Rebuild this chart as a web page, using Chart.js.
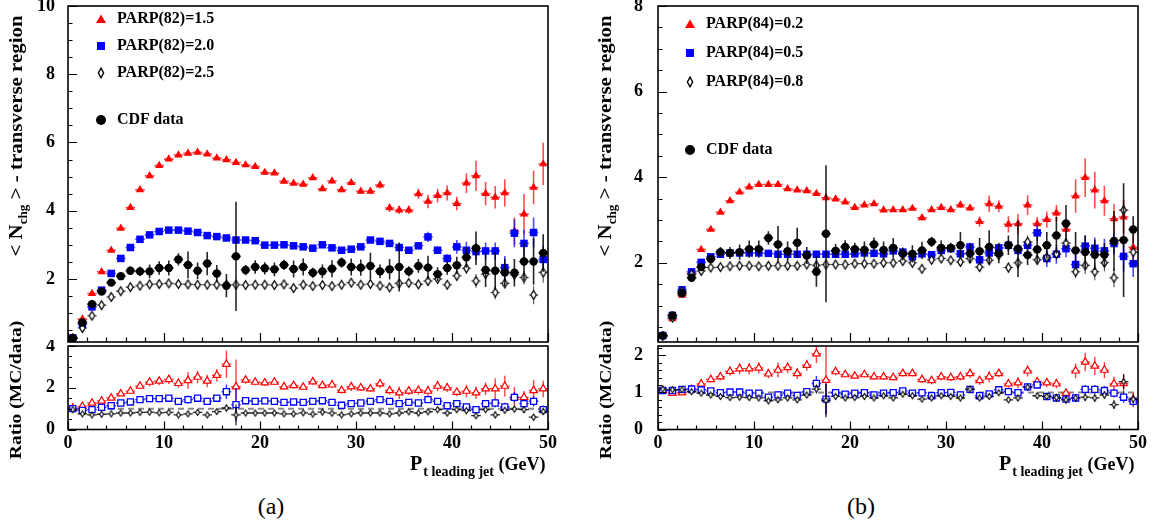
<!DOCTYPE html>
<html><head><meta charset="utf-8"><title>PARP(82) / PARP(84) transverse region</title>
<script src="https://cdn.jsdelivr.net/npm/chart.js@4.4.1/dist/chart.umd.min.js"></script>
<style>
html,body{margin:0;padding:0;background:#fff}
body{position:relative;width:1154px;height:529px;overflow:hidden;font-family:"Liberation Serif","Times New Roman",serif;color:#000}
canvas{position:absolute}
.rot{position:absolute;width:320px;height:22px;line-height:22px;text-align:center;white-space:nowrap;font-weight:bold}
.leg{position:absolute;font-weight:bold;font-size:16px;line-height:18px;white-space:nowrap}
.xt{position:absolute;font-weight:bold;font-size:18px;line-height:20px;white-space:nowrap}
svg{position:absolute;overflow:visible}
.cap{position:absolute;font-size:24px;line-height:28px;width:60px;text-align:center}
</style></head><body>
<canvas id="aMain" width="560" height="348" style="left:0;top:0"></canvas>
<canvas id="aRatio" width="560" height="125" style="left:0;top:340px"></canvas>
<canvas id="bMain" width="564" height="348" style="left:590px;top:0"></canvas>
<canvas id="bRatio" width="564" height="125" style="left:590px;top:340px"></canvas>

<div class="rot" style="left:-144px;top:125px;font-size:19px;transform:rotate(-90deg) scaleX(1.1)">&lt; N<sub style="font-size:12px">chg</sub> &gt; - transverse region</div>
<div class="rot" style="left:-144px;top:379px;font-size:17px;transform:rotate(-90deg) scaleX(1.15)">Ratio (MC/data)</div>
<div class="rot" style="left:445px;top:125px;font-size:19px;transform:rotate(-90deg) scaleX(1.1)">&lt; N<sub style="font-size:12px">chg</sub> &gt; - transverse region</div>
<div class="rot" style="left:446px;top:379px;font-size:17px;transform:rotate(-90deg) scaleX(1.15)">Ratio (MC/data)</div>

<div class="xt" style="left:410px;top:453px"><span style="font-size:20px">P</span><span style="font-size:14px;position:relative;top:6px;margin-left:1px">t leading jet</span> (GeV)</div>
<div class="xt" style="left:999px;top:453px"><span style="font-size:20px">P</span><span style="font-size:14px;position:relative;top:6px;margin-left:1px">t leading jet</span> (GeV)</div>

<div class="cap" style="left:241px;top:492px">(a)</div>
<div class="cap" style="left:831px;top:492px">(b)</div>
<div id="legends"></div>

<script>
// ---------------- data ----------------
const ptBins = [0.5,1.5,2.5,3.5,4.5,5.5,6.5,7.5,8.5,9.5,10.5,11.5,12.5,13.5,14.5,15.5,16.5,17.5,18.5,19.5,
  20.5,21.5,22.5,23.5,24.5,25.5,26.5,27.5,28.5,29.5,30.5,31.5,32.5,33.5,34.5,35.5,36.5,37.5,38.5,39.5,
  40.5,41.5,42.5,43.5,44.5,45.5,46.5,47.5,48.5,49.5];
const binHalfWidth = 0.5;
const xTickVals = [0,10,20,30,40,50];
const aMainTicks = [2,4,6,8,10];
const aRatioTicks = [0,2,4];
const bMainTicks = [2,4,6,8];
const bRatioTicks = [0,1,2];
const legendA = ['PARP(82)=1.5','PARP(82)=2.0','PARP(82)=2.5','CDF data'];
const legendB = ['PARP(84)=0.2','PARP(84)=0.5','PARP(84)=0.8','CDF data'];

// panel (a): PARP(82)
const aRed = [0.28,0.82,1.57,2.21,2.84,3.48,4.09,4.61,5.02,5.32,5.51,5.63,5.68,5.71,5.66,5.54,5.49,5.41,5.34,5.29,
  5.12,5.10,4.86,4.80,4.77,4.96,4.64,4.87,4.61,4.82,4.57,4.57,4.75,4.08,4.02,4.02,4.49,4.27,4.44,4.52,
  4.21,4.81,5.02,4.50,4.39,4.52,3.40,3.90,4.68,5.37];
const aRedErr = [0.03,0.03,0.03,0.03,0.03,0.03,0.03,0.03,0.03,0.03,0.03,0.03,0.03,0.03,0.03,0.04,0.04,0.04,0.04,0.04,
  0.05,0.05,0.05,0.05,0.06,0.06,0.06,0.07,0.07,0.08,0.08,0.09,0.10,0.12,0.12,0.12,0.15,0.20,0.20,0.22,
  0.20,0.29,0.44,0.34,0.33,0.40,0.40,0.59,0.49,0.62];
const aBlue = [0.27,0.67,1.18,1.67,2.16,2.60,2.92,3.16,3.29,3.39,3.43,3.43,3.40,3.36,3.27,3.24,3.20,3.14,3.14,3.12,
  2.99,2.99,3.00,2.97,2.94,2.90,3.00,2.91,2.84,2.87,2.94,3.14,3.10,3.04,2.92,2.84,2.97,3.23,2.84,2.60,
  2.94,2.84,2.80,2.82,2.82,2.33,3.34,3.04,3.36,2.57];
const aBlueErr = [0.03,0.03,0.03,0.03,0.03,0.03,0.03,0.03,0.03,0.03,0.03,0.03,0.03,0.03,0.03,0.03,0.03,0.03,0.03,0.03,
  0.04,0.04,0.04,0.04,0.05,0.05,0.05,0.05,0.06,0.06,0.06,0.07,0.07,0.08,0.08,0.09,0.10,0.15,0.12,0.12,
  0.20,0.25,0.25,0.25,0.25,0.34,0.41,0.40,0.44,0.40];
const aWhite = [0.25,0.56,0.92,1.23,1.47,1.64,1.76,1.80,1.84,1.85,1.87,1.85,1.84,1.83,1.83,1.83,1.83,1.83,1.82,1.83,
  1.83,1.82,1.84,1.73,1.83,1.79,1.82,1.79,1.83,1.89,1.83,1.85,1.80,1.75,1.87,1.88,1.84,1.94,2.00,1.83,
  2.09,2.31,1.94,2.14,1.60,1.87,2.12,2.04,1.53,2.19];
const aWhiteErr = [0.03,0.03,0.03,0.03,0.03,0.03,0.03,0.03,0.03,0.03,0.03,0.03,0.03,0.03,0.03,0.03,0.03,0.03,0.03,0.03,
  0.04,0.04,0.04,0.04,0.04,0.04,0.04,0.04,0.04,0.04,0.04,0.04,0.05,0.05,0.06,0.06,0.06,0.15,0.15,0.12,
  0.15,0.15,0.20,0.15,0.20,0.15,0.20,0.20,0.27,0.30];
const aData = [0.26,0.72,1.26,1.63,1.89,2.08,2.24,2.22,2.22,2.32,2.32,2.57,2.41,2.24,2.45,2.16,1.80,2.66,2.26,2.35,
  2.31,2.28,2.41,2.29,2.35,2.18,2.22,2.30,2.48,2.35,2.33,2.38,2.22,2.28,2.35,2.22,2.38,2.33,2.14,2.32,
  2.40,2.63,2.90,2.26,2.24,2.19,2.18,2.51,2.51,2.76];
const aDataErr = [0.03,0.04,0.05,0.06,0.08,0.10,0.12,0.14,0.20,0.20,0.22,0.18,0.39,0.24,0.34,0.25,0.34,1.60,0.15,0.20,
  0.18,0.20,0.15,0.25,0.25,0.15,0.20,0.25,0.15,0.25,0.24,0.39,0.20,0.30,0.72,0.15,0.20,0.35,0.20,0.20,
  0.25,0.30,0.49,0.50,0.55,0.40,0.40,0.55,0.68,0.55];
const aRedRatio = [1.03,1.11,1.27,1.37,1.51,1.71,1.84,2.08,2.27,2.32,2.40,2.21,2.35,2.51,2.32,2.60,3.13,2.05,2.37,2.27,
  2.24,2.27,2.05,2.11,2.03,2.29,2.11,2.14,1.88,2.05,2.00,1.95,2.19,1.87,1.76,1.85,1.88,1.84,2.08,2.00,
  1.79,1.84,1.76,1.95,1.95,2.08,1.54,1.54,1.87,1.95];
const aRedRatioErr = [0.05,0.06,0.07,0.08,0.10,0.10,0.12,0.15,0.20,0.20,0.22,0.20,0.40,0.30,0.30,0.30,0.65,1.30,0.18,0.15,
  0.15,0.15,0.15,0.15,0.15,0.15,0.15,0.15,0.15,0.20,0.15,0.15,0.20,0.20,0.30,0.20,0.20,0.25,0.25,0.20,
  0.20,0.30,0.30,0.30,0.50,0.50,0.50,0.30,0.50,0.40];
const aBlueRatio = [1.00,0.91,0.95,1.06,1.14,1.27,1.32,1.43,1.48,1.48,1.50,1.35,1.43,1.50,1.35,1.50,1.81,1.19,1.38,1.35,
  1.37,1.35,1.30,1.32,1.30,1.35,1.38,1.30,1.16,1.24,1.27,1.35,1.43,1.35,1.24,1.30,1.27,1.43,1.35,1.14,
  1.24,1.08,0.95,1.24,1.27,1.08,1.54,1.24,1.35,0.95];
const aBlueRatioErr = [0.04,0.05,0.05,0.06,0.06,0.07,0.07,0.08,0.10,0.10,0.10,0.10,0.20,0.12,0.15,0.12,0.35,0.80,0.10,0.08,
  0.08,0.08,0.08,0.08,0.08,0.08,0.08,0.08,0.08,0.10,0.10,0.10,0.10,0.10,0.12,0.10,0.10,0.15,0.12,0.12,
  0.12,0.15,0.15,0.15,0.20,0.20,0.25,0.20,0.25,0.20];
const aWhiteRatio = [0.95,0.75,0.70,0.73,0.75,0.79,0.79,0.82,0.83,0.80,0.82,0.70,0.75,0.82,0.70,0.86,1.03,0.70,0.79,0.79,
  0.79,0.79,0.75,0.75,0.80,0.74,0.83,0.78,0.70,0.75,0.79,0.79,0.79,0.75,0.79,0.85,0.79,0.85,0.95,0.79,
  0.95,0.90,0.66,0.95,0.70,0.92,0.98,0.95,0.59,0.86];
const aWhiteRatioErr = [0.03,0.03,0.03,0.03,0.03,0.04,0.04,0.05,0.05,0.05,0.05,0.05,0.10,0.06,0.08,0.06,0.15,0.50,0.05,0.05,
  0.05,0.05,0.05,0.05,0.05,0.05,0.05,0.05,0.05,0.05,0.06,0.06,0.06,0.06,0.08,0.06,0.06,0.08,0.08,0.08,
  0.08,0.10,0.10,0.10,0.15,0.12,0.12,0.15,0.15,0.15];

// panel (b): PARP(84)
const bRed = [0.30,0.69,1.24,1.76,2.31,2.78,3.18,3.45,3.65,3.77,3.83,3.83,3.83,3.73,3.70,3.68,3.62,3.52,3.49,3.42,
  3.29,3.35,3.38,3.23,3.24,3.24,3.27,3.05,3.24,3.29,3.24,3.35,3.28,2.96,3.38,3.32,2.90,2.91,3.35,2.91,
  3.01,3.16,2.78,3.56,3.99,3.70,3.45,3.03,3.07,2.36];
const bRedErr = [0.03,0.03,0.03,0.03,0.03,0.03,0.03,0.03,0.03,0.03,0.03,0.03,0.03,0.03,0.03,0.03,0.03,0.03,0.03,0.03,
  0.03,0.03,0.03,0.04,0.04,0.04,0.05,0.06,0.06,0.06,0.06,0.07,0.07,0.12,0.19,0.14,0.19,0.23,0.23,0.16,
  0.19,0.19,0.16,0.39,0.45,0.43,0.35,0.35,0.39,0.30];
const bBlue = [0.30,0.77,1.37,1.79,2.01,2.14,2.20,2.23,2.23,2.23,2.23,2.22,2.20,2.20,2.20,2.20,2.20,2.20,2.20,2.20,
  2.21,2.23,2.22,2.21,2.28,2.25,2.14,2.21,2.19,2.29,2.33,2.21,2.37,2.07,2.23,2.35,2.41,2.29,2.41,2.70,
  2.10,2.20,2.33,1.96,2.39,2.34,2.28,2.45,2.15,1.98];
const bBlueErr = [0.03,0.03,0.03,0.03,0.03,0.03,0.03,0.03,0.03,0.03,0.03,0.03,0.03,0.03,0.03,0.03,0.03,0.03,0.03,0.03,
  0.03,0.03,0.03,0.04,0.04,0.04,0.05,0.05,0.06,0.06,0.08,0.08,0.10,0.10,0.10,0.12,0.12,0.12,0.15,0.19,
  0.20,0.22,0.20,0.25,0.25,0.25,0.28,0.25,0.35,0.31];
const bWhite = [0.29,0.72,1.33,1.73,1.81,1.89,1.90,1.92,1.93,1.93,1.92,1.93,1.93,1.93,1.93,1.96,1.94,1.96,1.96,1.96,
  1.98,1.98,1.98,2.00,2.00,2.04,2.00,1.86,2.07,2.10,2.06,2.02,2.10,1.90,2.06,2.18,1.89,2.00,2.49,2.07,
  2.13,2.21,2.46,1.79,1.94,1.79,2.00,1.65,3.23,2.25];
const bWhiteErr = [0.03,0.03,0.03,0.03,0.03,0.03,0.03,0.03,0.03,0.03,0.03,0.03,0.03,0.03,0.03,0.03,0.03,0.03,0.03,0.03,
  0.03,0.03,0.03,0.04,0.04,0.04,0.05,0.08,0.08,0.08,0.08,0.08,0.08,0.10,0.10,0.10,0.12,0.15,0.15,0.12,
  0.15,0.15,0.15,0.15,0.20,0.20,0.20,0.22,0.20,0.25];
const bData = [0.30,0.77,1.29,1.65,1.90,2.09,2.25,2.23,2.25,2.32,2.32,2.58,2.43,2.27,2.47,2.17,1.79,2.68,2.28,2.37,
  2.32,2.30,2.43,2.30,2.35,2.21,2.21,2.29,2.49,2.35,2.35,2.41,2.22,2.27,2.37,2.22,2.41,2.33,2.18,2.31,
  2.41,2.64,2.92,2.29,2.25,2.19,2.19,2.51,2.53,2.78];
const bDataErr = [0.03,0.04,0.05,0.06,0.08,0.10,0.12,0.14,0.18,0.20,0.20,0.16,0.43,0.23,0.35,0.20,0.35,1.60,0.16,0.16,
  0.15,0.20,0.16,0.20,0.23,0.15,0.20,0.20,0.12,0.17,0.12,0.31,0.23,0.31,0.39,0.23,0.23,0.66,0.23,0.31,
  0.31,0.43,0.43,0.43,0.39,0.35,0.27,0.70,1.33,0.31];
const bRedRatio = [1.05,0.98,0.99,1.08,1.23,1.35,1.42,1.57,1.64,1.64,1.66,1.50,1.60,1.67,1.51,1.73,2.04,1.33,1.56,1.48,
  1.44,1.48,1.42,1.42,1.40,1.51,1.51,1.35,1.32,1.42,1.40,1.42,1.51,1.32,1.42,1.51,1.23,1.26,1.58,1.29,
  1.26,1.23,0.98,1.58,1.82,1.71,1.60,1.23,1.24,0.80];
const bRedRatioErr = [0.03,0.03,0.04,0.05,0.06,0.08,0.10,0.12,0.15,0.15,0.15,0.12,0.20,0.15,0.15,0.15,0.25,0.90,0.10,0.08,
  0.08,0.08,0.08,0.08,0.08,0.08,0.08,0.10,0.10,0.10,0.10,0.10,0.12,0.12,0.15,0.10,0.12,0.15,0.15,0.10,
  0.12,0.12,0.10,0.20,0.25,0.25,0.22,0.20,0.25,0.20];
const bBlueRatio = [1.05,1.05,1.08,1.09,1.07,1.04,0.99,1.01,1.01,0.98,0.98,0.87,0.93,0.98,0.92,1.02,1.24,0.82,0.99,0.95,
  0.98,0.99,0.93,0.98,0.99,1.04,0.98,0.99,0.91,0.99,1.00,0.93,1.08,0.91,0.96,1.07,1.02,0.99,1.15,1.20,
  0.89,0.85,0.82,0.85,1.08,1.08,1.05,0.98,0.87,0.76];
const bBlueRatioErr = [0.03,0.03,0.03,0.03,0.04,0.04,0.05,0.05,0.06,0.06,0.06,0.06,0.10,0.07,0.08,0.07,0.20,0.42,0.06,0.05,
  0.05,0.05,0.05,0.05,0.05,0.05,0.05,0.05,0.05,0.05,0.06,0.06,0.06,0.06,0.07,0.06,0.06,0.08,0.08,0.08,
  0.08,0.10,0.10,0.10,0.12,0.12,0.12,0.12,0.15,0.12];
const bWhiteRatio = [1.09,1.07,1.07,1.02,0.98,0.93,0.89,0.86,0.87,0.86,0.85,0.77,0.80,0.85,0.80,0.93,1.09,0.78,0.89,0.85,
  0.86,0.89,0.85,0.91,0.85,0.95,0.91,0.82,0.85,0.91,0.89,0.85,1.09,0.85,0.89,0.99,0.80,0.85,1.14,0.91,
  0.89,0.86,0.80,0.85,0.87,0.85,0.93,0.67,1.29,0.82];
const bWhiteRatioErr = [0.03,0.03,0.03,0.03,0.03,0.04,0.04,0.04,0.05,0.05,0.05,0.05,0.08,0.06,0.07,0.06,0.12,0.45,0.05,0.05,
  0.05,0.05,0.05,0.05,0.05,0.05,0.05,0.05,0.05,0.05,0.05,0.05,0.06,0.06,0.06,0.06,0.06,0.08,0.08,0.08,
  0.08,0.10,0.10,0.10,0.10,0.10,0.10,0.12,0.20,0.12];
const unityRatio = 1;

// ---------------- helpers ----------------
const RED = '#ff0000', BLUE = '#0000ff', BLACK = '#000000';
function pts(vals, errs){ return ptBins.map((x,i)=>({x:x, y:vals[i], e:errs[i]})); }

function diamondImg(w, h, lw){
  const c = document.createElement('canvas');
  c.width = Math.ceil(w + 2*lw + 2); c.height = Math.ceil(h + 2*lw + 2);
  const g = c.getContext('2d'); const cx = c.width/2, cy = c.height/2;
  g.beginPath(); g.moveTo(cx, cy-h/2); g.lineTo(cx+w/2, cy); g.lineTo(cx, cy+h/2); g.lineTo(cx-w/2, cy); g.closePath();
  g.fillStyle = '#fff'; g.fill(); g.lineWidth = lw; g.strokeStyle = '#000'; g.stroke();
  return c;
}
const bigDiamond = diamondImg(5.5, 8.5, 1.3);
const smallDiamond = diamondImg(4, 6, 1.1);

const errBarPlugin = {
  id: 'errBars',
  beforeDatasetDraw(chart, args){
    const ds = chart.data.datasets[args.index];
    if (!ds.errColor) return;
    const ctx = chart.ctx, xs = chart.scales.x, ys = chart.scales.y, a = chart.chartArea;
    ctx.save();
    ctx.beginPath(); ctx.rect(a.left, a.top, a.right-a.left, a.bottom-a.top); ctx.clip();
    ctx.strokeStyle = ds.errColor; ctx.lineWidth = ds.errWidth || 1;
    ctx.beginPath();
    ds.data.forEach(p => {
      const px = xs.getPixelForValue(p.x), py = ys.getPixelForValue(p.y);
      ctx.moveTo(xs.getPixelForValue(p.x - binHalfWidth), py);
      ctx.lineTo(xs.getPixelForValue(p.x + binHalfWidth), py);
      if (p.e) { ctx.moveTo(px, ys.getPixelForValue(p.y - p.e)); ctx.lineTo(px, ys.getPixelForValue(p.y + p.e)); }
    });
    ctx.stroke();
    ctx.restore();
  }
};

const framePlugin = {
  id: 'rootFrame',
  afterDraw(chart, args, o){
    const ctx = chart.ctx, a = chart.chartArea, xs = chart.scales.x, ys = chart.scales.y;
    ctx.save();
    ctx.strokeStyle = '#000'; ctx.lineWidth = 1.2;
    ctx.beginPath();
    for (let k = 0; ; k++) {
      const v = xs.min + k*o.xMinor; if (v > xs.max + 1e-9) break;
      const major = Math.abs(v/o.xMajor - Math.round(v/o.xMajor)) < 1e-6;
      const px = Math.round(xs.getPixelForValue(v)) + 0.5;
      ctx.moveTo(px, a.bottom); ctx.lineTo(px, a.bottom - (major ? o.majorLen : o.minorLen));
    }
    const y0 = Math.ceil((ys.min - 1e-9)/o.yMinor);
    for (let k = y0; ; k++) {
      const v = k*o.yMinor; if (v > ys.max + 1e-9) break;
      const major = Math.abs(v/o.yMajor - Math.round(v/o.yMajor)) < 1e-6;
      const py = Math.round(ys.getPixelForValue(v)) + 0.5;
      ctx.moveTo(a.left, py); ctx.lineTo(a.left + (major ? o.majorLen : o.minorLen), py);
    }
    ctx.stroke();
    ctx.lineWidth = 1.6;
    ctx.strokeRect(a.left, a.top, a.right - a.left, a.bottom - a.top);
    ctx.restore();
  }
};

const tickFont = {family:'"Liberation Serif","Times New Roman",serif', size:18, weight:'bold'};

function buildChart(id, datasets, o){
  return new Chart(document.getElementById(id), {
    type: 'scatter',
    data: {datasets: datasets},
    options: {
      responsive: false, maintainAspectRatio: false, animation: false, events: [],
      layout: {padding: {left: 0, right: o.padR, top: o.padT, bottom: o.padB}},
      plugins: {legend: {display: false}, tooltip: {enabled: false}, rootFrame: o.frame},
      scales: {
        x: {type: 'linear', min: 0, max: 50,
            grid: {display: false, drawTicks: false}, border: {display: false},
            ticks: {display: o.showX, font: tickFont, color: '#000', padding: o.xPad, maxRotation: 0, autoSkip: false},
            afterBuildTicks: s => { s.ticks = xTickVals.map(v => ({value: v})); },
            afterFit: s => { s.height = o.xH; s.paddingLeft = 0; s.paddingRight = 0; }},
        y: {type: 'linear', min: o.ymin, max: o.ymax,
            grid: {display: false, drawTicks: false}, border: {display: false},
            ticks: {font: tickFont, color: '#000', padding: o.yPad},
            afterBuildTicks: s => { s.ticks = o.yTicks.map(v => ({value: v})); },
            afterFit: s => { s.width = 68; s.paddingTop = 0; s.paddingBottom = 0; }}
      }
    },
    plugins: [errBarPlugin, framePlugin]
  });
}

function mainSets(red, redE, blue, blueE, white, whiteE, data, dataE){
  return [
    {label: 'data', data: pts(data, dataE), order: 0, pointStyle: 'circle', pointRadius: 4.2,
     backgroundColor: BLACK, borderColor: BLACK, borderWidth: 0, errColor: 'rgba(0,0,0,0.85)', errWidth: 1.6},
    {label: 'p3', data: pts(white, whiteE), order: 1, pointStyle: bigDiamond, pointRadius: 4,
     backgroundColor: '#fff', borderColor: BLACK, errColor: 'rgba(40,40,40,0.8)', errWidth: 1.1},
    {label: 'p2', data: pts(blue, blueE), order: 2, pointStyle: 'rect', pointRadius: 5.3,
     backgroundColor: BLUE, borderColor: BLUE, borderWidth: 0, errColor: 'rgba(0,0,255,0.7)', errWidth: 1.6},
    {label: 'p1', data: pts(red, redE), order: 3, pointStyle: 'triangle', pointRadius: 4.8,
     backgroundColor: RED, borderColor: RED, borderWidth: 0, errColor: 'rgba(255,0,0,0.7)', errWidth: 1.6}
  ];
}
function ratioSets(red, redE, blue, blueE, white, whiteE){
  return [
    {label: 'r3', data: pts(white, whiteE), order: 0, pointStyle: smallDiamond, pointRadius: 3,
     backgroundColor: '#fff', borderColor: BLACK, errColor: 'rgba(0,0,0,0.85)', errWidth: 1.3},
    {label: 'r2', data: pts(blue, blueE), order: 1, pointStyle: 'rect', pointRadius: 4.3,
     backgroundColor: '#fff', borderColor: BLUE, borderWidth: 1.3, errColor: 'rgba(0,0,255,0.8)', errWidth: 1.4},
    {label: 'r1', data: pts(red, redE), order: 2, pointStyle: 'triangle', pointRadius: 4.3,
     backgroundColor: '#fff', borderColor: RED, borderWidth: 1.2, errColor: 'rgba(255,0,0,0.75)', errWidth: 1.4},
    {type: 'line', label: 'unity', data: [{x: 0, y: unityRatio}, {x: 50, y: unityRatio}], order: 10,
     borderColor: '#8a8a8a', borderWidth: 2, borderDash: [6, 4], pointRadius: 0, fill: false}
  ];
}

const mainFrame = {xMajor: 10, xMinor: 2, yMajor: 2, yMinor: 0.5, majorLen: 9, minorLen: 4.5};

buildChart('aMain', mainSets(aRed, aRedErr, aBlue, aBlueErr, aWhite, aWhiteErr, aData, aDataErr),
  {padR: 12, padT: 6, padB: 6, xH: 0, showX: false, xPad: 0, yPad: 13, ymin: 0.15, ymax: 10, yTicks: aMainTicks, frame: mainFrame});
buildChart('aRatio', ratioSets(aRedRatio, aRedRatioErr, aBlueRatio, aBlueRatioErr, aWhiteRatio, aWhiteRatioErr),
  {padR: 12, padT: 6, padB: 3.5, xH: 32, showX: true, xPad: 3, yPad: 13, ymin: 0, ymax: 4, yTicks: aRatioTicks,
   frame: {xMajor: 10, xMinor: 2, yMajor: 2, yMinor: 0.5, majorLen: 8, minorLen: 4}});
buildChart('bMain', mainSets(bRed, bRedErr, bBlue, bBlueErr, bWhite, bWhiteErr, bData, bDataErr),
  {padR: 16, padT: 6, padB: 6, xH: 0, showX: false, xPad: 0, yPad: 15, ymin: 0.15, ymax: 8, yTicks: bMainTicks, frame: mainFrame});
buildChart('bRatio', ratioSets(bRedRatio, bRedRatioErr, bBlueRatio, bBlueRatioErr, bWhiteRatio, bWhiteRatioErr),
  {padR: 16, padT: 6, padB: 3.5, xH: 32, showX: true, xPad: 3, yPad: 15, ymin: 0, ymax: 2.25, yTicks: bRatioTicks,
   frame: {xMajor: 10, xMinor: 2, yMajor: 1, yMinor: 0.2, majorLen: 8, minorLen: 4}});

// ---------------- legends (inside the plot areas) ----------------
function markerSvg(kind, cx, cy){
  const ns = 'http://www.w3.org/2000/svg';
  const s = document.createElementNS(ns, 'svg');
  s.setAttribute('width', '14'); s.setAttribute('height', '14');
  s.style.left = (cx - 7) + 'px'; s.style.top = (cy - 7) + 'px';
  let el;
  if (kind === 'tri') { el = document.createElementNS(ns, 'polygon'); el.setAttribute('points', '7,2.5 12,11 2,11'); el.setAttribute('fill', RED); }
  else if (kind === 'sq') { el = document.createElementNS(ns, 'rect'); el.setAttribute('x', '3'); el.setAttribute('y', '3'); el.setAttribute('width', '8'); el.setAttribute('height', '8'); el.setAttribute('fill', BLUE); }
  else if (kind === 'dia') { el = document.createElementNS(ns, 'polygon'); el.setAttribute('points', '7,2.2 9.6,7 7,11.8 4.4,7'); el.setAttribute('fill', '#fff'); el.setAttribute('stroke', '#000'); el.setAttribute('stroke-width', '1.4'); }
  else { el = document.createElementNS(ns, 'circle'); el.setAttribute('cx', '7'); el.setAttribute('cy', '7'); el.setAttribute('r', '5'); el.setAttribute('fill', '#000'); }
  s.appendChild(el);
  return s;
}
function addLegend(labels, mx, tx, rows){
  const host = document.getElementById('legends');
  const kinds = ['tri', 'sq', 'dia', 'dot'];
  labels.forEach((lab, i) => {
    host.appendChild(markerSvg(kinds[i], mx, rows[i]));
    const d = document.createElement('div');
    d.className = 'leg'; d.textContent = lab;
    d.style.left = tx + 'px'; d.style.top = (rows[i] - 10) + 'px';
    host.appendChild(d);
  });
}
addLegend(legendA, 101, 117, [19, 46, 73, 120]);
addLegend(legendB, 690, 706, [24, 53, 82, 150]);
</script>
</body></html>
